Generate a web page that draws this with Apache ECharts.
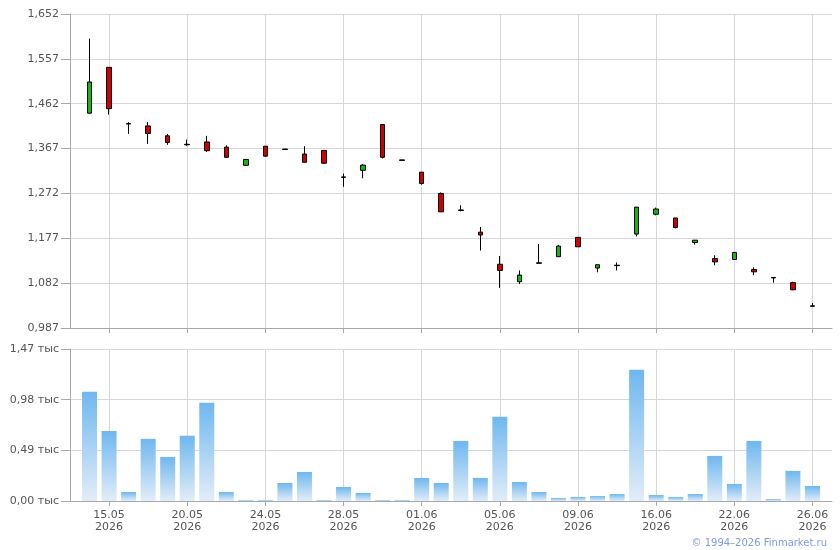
<!DOCTYPE html>
<html>
<head>
<meta charset="utf-8">
<script src="https://cdn.jsdelivr.net/npm/echarts@6/dist/echarts.min.js"></script>
<style>
html,body{margin:0;padding:0;background:#fff;}
#chart{width:840px;height:550px;}
</style>
</head>
<body>
<div id="chart"></div>
<script>
const dates = ['14.05','15.05','16.05','18.05','19.05','20.05','21.05','22.05','23.05','24.05',
  '25.05','26.05','27.05','28.05','29.05','30.05','31.05','01.06','02.06','03.06',
  '04.06','05.06','06.06','07.06','08.06','09.06','10.06','11.06','15.06','16.06',
  '17.06','18.06','19.06','22.06','23.06','24.06','25.06','26.06'];
const year = '2026';
const opens  = [1442,1539,1420,1415,1394,1376,1381,1370,1331.5,1372,1366,1355.5,1363,1307,1321,1418,1343,1317,1272,1237,1190,1122,1085,1125,1138,1179,1114,1120,1186,1228,1220,1168,1134,1132,1111,1094,1083,1034];
const closes = [1508,1451.5,1419,1399,1380,1375,1362.5,1348.5,1344,1351,1365,1338,1336,1306,1332,1348.5,1342,1293,1233,1236,1184,1109,1099,1124,1160.5,1159,1121,1119,1243,1239,1200,1173,1127,1147,1106,1093,1068,1033];
const highs  = [1600,1539,1423,1423,1398,1386,1394,1374,1344,1372,1366,1372,1364,1314,1334,1418,1343,1317,1274,1247,1201,1139.5,1109,1165,1163,1179,1121,1126,1243,1242,1220,1173,1141,1147,1115.5,1094,1085,1040];
const lows   = [1441,1439,1398,1377,1375,1373,1360,1348,1331,1350,1364,1338,1335,1286,1304,1346,1342,1290.5,1233,1234,1151,1072,1080,1124,1138,1159,1105,1109,1181,1225.5,1198,1163.5,1120,1131,1099,1083,1067,1033];
const volumes = [1056,678,87,601,426,630,950,87,10,10,174,281,10,136,78,10,10,223,174,581,223,814,184,87,29,39,48,68,1269,58,39,68,436,165,581,19,291,145];
const priceTicks = [987,1082,1177,1272,1367,1462,1557,1652];
const volTicks = [0,490,980,1470];

const cats = [''].concat(dates.map(d => d + '\n' + year)).concat(['']);
const candleSeriesData = ['-'].concat(dates.map((d,i) => [opens[i], closes[i], lows[i], highs[i]])).concat(['-']);
const volData = ['-'].concat(volumes).concat(['-']);

const showIdx = (idx) => idx >= 2 && (idx - 2) % 4 === 0;
const txt = '#555';
const font = 'DejaVu Sans, Verdana, sans-serif';
const axisGrey = '#a6a9ae';
const gridGrey = '#d4d7db';

const chart = echarts.init(document.getElementById('chart'), null, {renderer:'canvas'});
chart.setOption({
  animation: false,
  backgroundColor: '#fff',
  textStyle: {fontFamily: font},
  title: {
    text: '© 1994–2026 Finmarket.ru',
    right: 8, bottom: -3,
    textStyle: {color: '#7d9be0', fontSize: 10, fontWeight: 'normal', fontFamily: font}
  },
  grid: [
    {left: 70, right: 8, top: 14, height: 314},
    {left: 70, right: 8, top: 349, height: 152}
  ],
  xAxis: [
    {
      type: 'category', gridIndex: 0, data: cats, boundaryGap: false,
      axisLine: {lineStyle: {color: axisGrey}},
      axisTick: {show: true, interval: showIdx, length: 5, lineStyle: {color: axisGrey}},
      axisLabel: {show: false, interval: showIdx},
      splitLine: {show: true, interval: showIdx, lineStyle: {color: gridGrey}}
    },
    {
      type: 'category', gridIndex: 1, data: cats, boundaryGap: false,
      axisLine: {lineStyle: {color: axisGrey}},
      axisTick: {show: true, interval: showIdx, length: 5, lineStyle: {color: axisGrey}},
      axisLabel: {show: true, interval: showIdx, color: txt, fontSize: 11, fontFamily: font, lineHeight: 12, margin: 8},
      splitLine: {show: true, interval: showIdx, lineStyle: {color: gridGrey}}
    }
  ],
  yAxis: [
    {
      type: 'value', gridIndex: 0, min: 987, max: 1652, scale: true,
      axisLine: {show: true, lineStyle: {color: axisGrey}},
      axisTick: {show: true, length: 9, customValues: priceTicks, lineStyle: {color: axisGrey}},
      axisLabel: {
        customValues: priceTicks, color: txt, fontSize: 11, fontFamily: font, margin: 11,
        formatter: v => (v / 1000).toFixed(3).replace('.', ',')
      },
      splitLine: {show: true, lineStyle: {color: gridGrey}}
    },
    {
      type: 'value', gridIndex: 1, min: 0, max: 1470, interval: 490,
      axisLine: {show: true, lineStyle: {color: axisGrey}},
      axisTick: {show: true, length: 9, lineStyle: {color: axisGrey}},
      axisLabel: {
        color: txt, fontSize: 11, fontFamily: font, margin: 11,
        formatter: v => (v / 1000).toFixed(2).replace('.', ',') + ' тыс'
      },
      splitLine: {show: true, lineStyle: {color: gridGrey}}
    }
  ],
  series: [
    {
      type: 'candlestick', xAxisIndex: 0, yAxisIndex: 0,
      data: candleSeriesData, barWidth: 5,
      itemStyle: {
        color: '#10b810', color0: '#d00000',
        borderColor: '#000', borderColor0: '#000', borderColorDoji: '#000', borderWidth: 1
      }
    },
    {
      type: 'bar', xAxisIndex: 1, yAxisIndex: 1,
      data: volData, barWidth: 15,
      itemStyle: {
        color: new echarts.graphic.LinearGradient(0, 0, 0, 1, [
          {offset: 0, color: '#6fb7ef'},
          {offset: 1, color: '#e2edf8'}
        ])
      }
    }
  ]
});
</script>
</body>
</html>
